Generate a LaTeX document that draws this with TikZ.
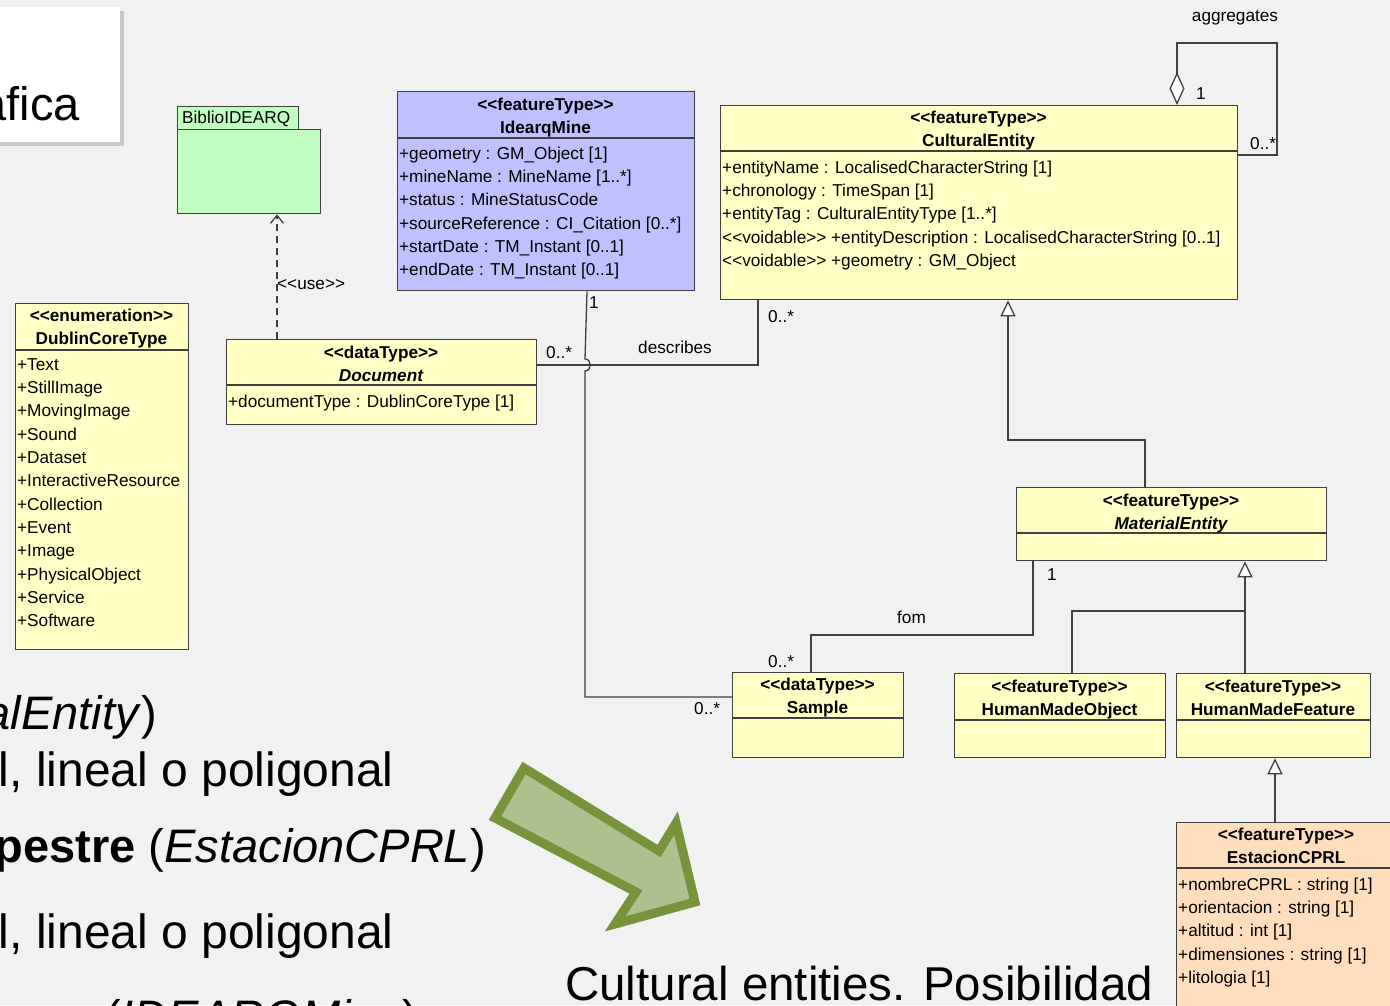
\documentclass[tikz,border=0pt]{standalone}
\usepackage{fontspec}
\setmainfont{Liberation Sans}
\usetikzlibrary{arrows.meta,shadows}

\definecolor{bgcol}{RGB}{241,241,241}
\definecolor{umlyellow}{RGB}{255,255,198}
\definecolor{umlblue}{RGB}{192,192,255}
\definecolor{umlgreen}{RGB}{192,255,192}
\definecolor{umlpeach}{RGB}{255,222,190}
\definecolor{umlline}{RGB}{64,64,64}
\definecolor{arrowfill}{RGB}{175,192,143}
\definecolor{arrowedge}{RGB}{119,147,60}

\newcommand\stereo[1]{<{}<#1>{}>}
\newcommand\umlfont{\fontsize{17.2}{20}\selectfont}
\newcommand\bigfont{\fontsize{47}{56}\selectfont}

\tikzset{
  umlbox/.style={draw=umlline, line width=1.3pt, inner sep=0pt, anchor=north west},
  umlrule/.style={draw=umlline, line width=1.3pt},
  umltxt/.style={font=\umlfont, inner sep=0pt, anchor=base west},
  umlhead/.style={font=\umlfont\bfseries, inner sep=0pt, anchor=base},
  assoc/.style={draw=umlline, line width=1.3pt},
  gen/.style={assoc, -{Triangle[open, fill=white, length=16pt, width=15pt]}},
  dep/.style={assoc, dashed, dash pattern=on 7pt off 5pt, -{Straight Barb[length=8pt, width=13pt]}},
  bigtxt/.style={font=\bigfont, inner sep=0pt},
}

\begin{document}
\begin{tikzpicture}[x=1pt, y=-1pt]
\useasboundingbox (0,0) rectangle (1390,1005);
\clip (0,0) rectangle (1390,1005);
\fill[bgcol] (0,0) rectangle (1390,1005);

% title card at the top left
\node[fill=white, anchor=north west, minimum width=125, minimum height=135, inner sep=0pt,
      drop shadow={shadow xshift=4pt, shadow yshift=-4pt, opacity=0.35}] (card) at (-5,7) {};
\node[bigtxt, anchor=base east] (cardtxt) at (80,120) {Gráfica};

% package BiblioIDEARQ
\node[umlbox, fill=umlgreen, minimum width=121, minimum height=23] (pkgtab) at (177,106) {};
\node[umlbox, fill=umlgreen, minimum width=143, minimum height=84] (pkg) at (177,129) {};
\node[umltxt] (pkgname) at (182,123) {BiblioIDEARQ};

% IdearqMine
\node[umlbox, fill=umlblue, minimum width=297, minimum height=199] (idm) at (397,91) {};
\draw[umlrule] (idm.west |- 0,138) -- (idm.east |- 0,138);
\node[umlhead] (idmst) at (545.5,110) {\stereo{featureType}};
\node[umlhead] (idmnm) at (545.5,133) {IdearqMine};
\foreach \t [count=\i] in {{+geometry : GM\_Object [1]}, {+mineName : MineName [1..*]},
  {+status : MineStatusCode}, {+sourceReference : CI\_Citation [0..*]},
  {+startDate : TM\_Instant [0..1]}, {+endDate : TM\_Instant [0..1]}}
  \node[umltxt] (idma\i) at (399, 136+23.3*\i) {\t};

% CulturalEntity
\node[umlbox, fill=umlyellow, minimum width=517, minimum height=194] (ce) at (720,105) {};
\draw[umlrule] (ce.west |- 0,151) -- (ce.east |- 0,151);
\node[umlhead] (cest) at (978.5,123) {\stereo{featureType}};
\node[umlhead] (cenm) at (978.5,146) {CulturalEntity};
\foreach \t [count=\i] in {{+entityName : LocalisedCharacterString [1]}, {+chronology : TimeSpan [1]},
  {+entityTag : CulturalEntityType [1..*]},
  {\stereo{voidable} +entityDescription : LocalisedCharacterString [0..1]},
  {\stereo{voidable} +geometry : GM\_Object}}
  \node[umltxt] (cea\i) at (722, 150+23.3*\i) {\t};

% DublinCoreType
\node[umlbox, fill=umlyellow, minimum width=173, minimum height=346] (dc) at (15,303) {};
\draw[umlrule] (dc.west |- 0,350) -- (dc.east |- 0,350);
\node[umlhead] (dcst) at (101.5,321) {\stereo{enumeration}};
\node[umlhead] (dcnm) at (101.5,344) {DublinCoreType};
\foreach \t [count=\i] in {+Text, +StillImage, +MovingImage, +Sound, +Dataset,
  +InteractiveResource, +Collection, +Event, +Image, +PhysicalObject, +Service, +Software}
  \node[umltxt] (dca\i) at (17, 347+23.3*\i) {\t};

% Document
\node[umlbox, fill=umlyellow, minimum width=310, minimum height=85] (doc) at (226,339) {};
\draw[umlrule] (doc.west |- 0,385) -- (doc.east |- 0,385);
\node[umlhead] (docst) at (381,358) {\stereo{dataType}};
\node[umlhead, font=\umlfont\bfseries\itshape] (docnm) at (381,381) {Document};
\node[umltxt] (doca1) at (228,407) {+documentType : DublinCoreType [1]};

% MaterialEntity
\node[umlbox, fill=umlyellow, minimum width=310, minimum height=73] (me) at (1016,487) {};
\draw[umlrule] (me.west |- 0,533) -- (me.east |- 0,533);
\node[umlhead] (mest) at (1171,506) {\stereo{featureType}};
\node[umlhead, font=\umlfont\bfseries\itshape] (menm) at (1171,529) {MaterialEntity};

% Sample
\node[umlbox, fill=umlyellow, minimum width=171, minimum height=85] (smp) at (732,672) {};
\draw[umlrule] (smp.west |- 0,718) -- (smp.east |- 0,718);
\node[umlhead] (smpst) at (817.5,690) {\stereo{dataType}};
\node[umlhead] (smpnm) at (817.5,713) {Sample};

% HumanMadeObject
\node[umlbox, fill=umlyellow, minimum width=211, minimum height=84] (hmo) at (954,673) {};
\draw[umlrule] (hmo.west |- 0,720) -- (hmo.east |- 0,720);
\node[umlhead] (hmost) at (1059.5,692) {\stereo{featureType}};
\node[umlhead] (hmonm) at (1059.5,715) {HumanMadeObject};

% HumanMadeFeature
\node[umlbox, fill=umlyellow, minimum width=194, minimum height=84] (hmf) at (1176,673) {};
\draw[umlrule] (hmf.west |- 0,720) -- (hmf.east |- 0,720);
\node[umlhead] (hmfst) at (1273,692) {\stereo{featureType}};
\node[umlhead] (hmfnm) at (1273,715) {HumanMadeFeature};

% EstacionCPRL
\node[umlbox, fill=umlpeach, minimum width=230, minimum height=200] (est) at (1176,822) {};
\draw[umlrule] (est.west |- 0,868) -- (est.east |- 0,868);
\node[umlhead] (estst) at (1286,840) {\stereo{featureType}};
\node[umlhead] (estnm) at (1286,863) {EstacionCPRL};
\foreach \t [count=\i] in {{+nombreCPRL : string [1]}, {+orientacion : string [1]},
  {+altitud : int [1]}, {+dimensiones : string [1]}, {+litologia [1]}}
  \node[umltxt] (esta\i) at (1178, 867+23.3*\i) {\t};

% dependency Document -> BiblioIDEARQ
\draw[dep] (doc.north -| 277,0) -- (pkg.south -| 277,0);
\node[umltxt] (uselbl) at (277,289) {\stereo{use}};

% describes
\draw[assoc] (doc.east |- 0,365) -- (758,365) -- (ce.south -| 758,0);
\node[umltxt] (descm1) at (546,358) {0..*};
\node[umltxt] (desclbl) at (638,353) {describes};
\node[umltxt] (descm2) at (768,322) {0..*};

% IdearqMine -- Sample
\draw[assoc] (idm.south -| 587,0) -- (585,359) .. controls (592,359) and (592,371) .. (585,371)
  -- (585,697) -- (smp.west |- 0,697);
\node[umltxt] (idmm1) at (589,308) {1};
\node[umltxt] (idmm2) at (694,714) {0..*};

% from
\draw[assoc] (me.south -| 1033,0) -- (1033,635) -- (811,635) -- (smp.north -| 811,0);
\node[umltxt] (fromm1) at (1047,580) {1};
\node[umltxt] (fromlbl) at (897,623) {fom};
\node[umltxt] (fromm2) at (768,667) {0..*};

% generalisations
\draw[gen] (me.north -| 1145,0) -- (1145,440) -- (1008,440) -- (ce.south -| 1008,0);
\draw[gen] (hmo.north -| 1072,0) -- (1072,611) -- (1245,611) -- (me.south -| 1245,0);
\draw[assoc] (hmf.north -| 1245,0) -- (1245,611);
\draw[gen] (est.north -| 1275,0) -- (hmf.south -| 1275,0);

% aggregates (self association)
\draw[assoc, {Diamond[open, fill=white, length=33pt, width=15pt]}-]
  (ce.north -| 1177,0) -- (1177,43) -- (1277,43) -- (1277,155) -- (ce.east |- 0,155);
\node[umltxt, anchor=base] (agglbl) at (1235,21) {aggregates};
\node[umltxt] (aggm1) at (1196,99) {1};
\node[umltxt] (aggm2) at (1250,149) {0..*};

% green block arrow
\draw[draw=arrowedge, fill=arrowfill, line width=9pt, line join=miter]
  (524,768) -- (659,851) -- (676,823) -- (695,902) -- (615,924) -- (636,892) -- (495,818) -- cycle;

% running text
\node[bigtxt, anchor=base east] (t1) at (157,729) {(\textit{MaterialEntity})};
\node[bigtxt, anchor=base east, font=\fontsize{48}{56}\selectfont] (t2) at (394,786) {puntual, lineal o poligonal};
\node[bigtxt, anchor=base east] (t3) at (486,862) {\textbf{Rupestre} (\textit{EstacionCPRL})};
\node[bigtxt, anchor=base east, font=\fontsize{48}{56}\selectfont] (t4) at (394,948) {puntual, lineal o poligonal};
\node[bigtxt, anchor=base west] (t5) at (105,1033) {(\textit{IDEARQMine})};
\node[bigtxt, anchor=base west, font=\fontsize{47.5}{56}\selectfont] (t6) at (565,1000) {Cultural entities. Posibilidad};
\end{tikzpicture}
\end{document}
